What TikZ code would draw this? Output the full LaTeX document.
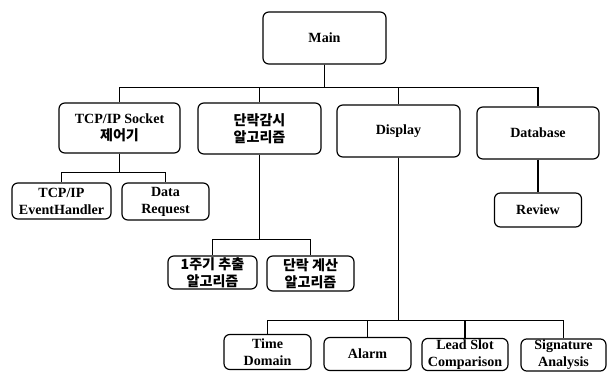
\documentclass[tikz,border=0pt]{standalone}
\usepackage{fontspec}
\setmainfont{Liberation Serif}
\newfontfamily\kr{Noto Sans CJK KR}

\begin{document}
\begin{tikzpicture}[x=0.03cm, y=-0.03cm,
  box/.style={draw, rounded corners=5pt, line width=1pt, align=center, inner sep=1pt,
    font=\bfseries\fontsize{12}{14.5}\selectfont},
  wire/.style={line width=1pt}]
  \useasboundingbox (0,0) rectangle (608,372);
  % top level
  \node[box, minimum width=3.69cm, minimum height=1.56cm] (main) at (324.5,38) {Main};
  \node[box, minimum width=3.63cm, minimum height=1.5cm] (tcp) at (119.5,128) {TCP/IP Socket\\{\kr 제어기}};
  \node[box, minimum width=3.69cm, minimum height=1.53cm] (dan) at (259.5,128.5) {{\kr 단락감시}\\{\kr 알고리즘}};
  \node[box, minimum width=3.69cm, minimum height=1.56cm] (disp) at (398.5,131) {Display};
  \node[box, minimum width=3.66cm, minimum height=1.56cm] (db) at (538,133) {Database};
  % children
  \node[box, minimum width=2.97cm, minimum height=1.08cm] (evh) at (61.5,201) {TCP/IP\\EventHandler};
  \node[box, minimum width=2.61cm, minimum height=1.11cm] (req) at (165.5,201.5) {Data\\Request};
  \node[box, minimum width=2.67cm, minimum height=0.99cm] (per) at (212.5,272.5) {{\kr 1주기 추출}\\{\kr 알고리즘}};
  \node[box, minimum width=2.61cm, minimum height=1.05cm] (calc) at (310.5,273.5) {{\kr 단락 계산}\\{\kr 알고리즘}};
  \node[box, minimum width=2.61cm, minimum height=1.02cm] (review) at (538,210) {Review};
  \node[box, minimum width=2.61cm, minimum height=1.05cm] (time) at (267.5,352) {Time\\Domain};
  \node[box, minimum width=2.61cm, minimum height=0.99cm] (alarm) at (367.5,354) {Alarm};
  \node[box, minimum width=2.58cm, minimum height=0.96cm] (lead) at (465,354.5) {Lead Slot\\Comparison};
  \node[box, minimum width=2.55cm, minimum height=0.93cm] (sig) at (563.5,355) {Signature\\Analysis};
  % connectors
  \foreach \c in {tcp,dan,disp,db}
    \draw[wire] (main.south) -- ++(0,23) -| (\c.north);
  \foreach \c in {evh,req}
    \draw[wire] (tcp.south) -- ++(0,19) -| (\c.north);
  \foreach \c in {per,calc}
    \draw[wire] (dan.south) -- ++(0,85) -| (\c.north);
  \foreach \c in {time,alarm,lead,sig}
    \draw[wire] (disp.south) -- ++(0,163) -| (\c.north);
  \draw[wire] (db.south) -- (review.north);
\end{tikzpicture}
\end{document}
